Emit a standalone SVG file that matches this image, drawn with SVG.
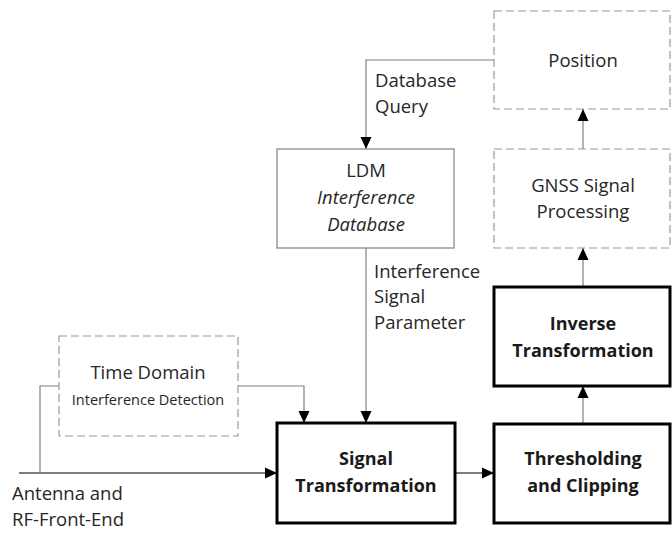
<svg xmlns="http://www.w3.org/2000/svg" width="672" height="538" viewBox="0 0 672 538">
  <style>
    text { font-family: "Open Sans", "Noto Sans", "Liberation Sans", sans-serif; fill: #262626; }
    .lbl { font-size: 18.5px; }
    .small { font-size: 14.5px; }
    .bold { font-size: 18px; font-weight: bold; fill: #1a1a1a; }
    .mid { text-anchor: middle; }
    .solid { fill: #ffffff; stroke: #808080; stroke-width: 1.2; }
    .dash { fill: #ffffff; stroke: #9a9a9a; stroke-width: 1.2; stroke-dasharray: 8 4; }
    .thick { fill: #ffffff; stroke: #000000; stroke-width: 3; }
    .wire { fill: none; stroke: #808080; stroke-width: 1.2; }
    .wire-dark { fill: none; stroke: #000000; stroke-width: 1.2; }
  </style>
  <defs>
    <marker id="arrow" viewBox="0 0 12 12" refX="12" refY="6" markerWidth="12" markerHeight="12" markerUnits="userSpaceOnUse" orient="auto">
      <path d="M0,0.5 L12,6 L0,11.5 Z" fill="#000000"/>
    </marker>
  </defs>

  <rect width="672" height="538" fill="#ffffff"/>

  <!-- connectors -->
  <g id="connectors">
    <!-- antenna input to signal transformation -->
    <path class="wire-dark" d="M19,473 H277" marker-end="url(#arrow)"/>
    <!-- branch to time domain detection -->
    <path class="wire" d="M40,473 V386 H59"/>
    <!-- time domain detection to signal transformation -->
    <path class="wire" d="M238,386 H304 V423" marker-end="url(#arrow)"/>
    <!-- database parameters to signal transformation -->
    <path class="wire" d="M366,248 V423" marker-end="url(#arrow)"/>
    <!-- signal transformation to thresholding -->
    <path class="wire-dark" d="M455,473 H494" marker-end="url(#arrow)"/>
    <!-- thresholding to inverse transformation -->
    <path class="wire" d="M583,424 V386" marker-end="url(#arrow)"/>
    <!-- inverse transformation to GNSS processing -->
    <path class="wire" d="M583,287 V248" marker-end="url(#arrow)"/>
    <!-- GNSS processing to position -->
    <path class="wire" d="M583,149 V109" marker-end="url(#arrow)"/>
    <!-- position to database query -->
    <path class="wire" d="M494,60 H366 V149" marker-end="url(#arrow)"/>

    <text class="lbl" x="375" y="87">Database</text>
    <text class="lbl" x="375" y="113">Query</text>
    <text class="lbl" x="374" y="278">Interference</text>
    <text class="lbl" x="374" y="303">Signal</text>
    <text class="lbl" x="374" y="329">Parameter</text>
    <text class="lbl" x="12" y="500">Antenna and</text>
    <text class="lbl" x="12" y="526">RF-Front-End</text>
  </g>

  <g id="position">
    <rect class="dash" x="494" y="11" width="176" height="98"/>
    <text class="lbl mid" x="583" y="67">Position</text>
  </g>

  <g id="gnss-processing">
    <rect class="dash" x="494" y="149" width="176" height="99"/>
    <text class="lbl mid" x="583" y="192">GNSS Signal</text>
    <text class="lbl mid" x="583" y="218">Processing</text>
  </g>

  <g id="ldm-database">
    <rect class="solid" x="277" y="149" width="177" height="99"/>
    <text class="lbl mid" x="366" y="177">LDM</text>
    <text class="lbl mid" x="366" y="204" font-style="italic">Interference</text>
    <text class="lbl mid" x="366" y="231" font-style="italic">Database</text>
  </g>

  <g id="inverse-transformation">
    <rect class="thick" x="494" y="287" width="176" height="99"/>
    <text class="bold mid" x="583" y="330">Inverse</text>
    <text class="bold mid" x="583" y="357">Transformation</text>
  </g>

  <g id="time-domain">
    <rect class="dash" x="59" y="336" width="179" height="100"/>
    <text class="lbl mid" x="148" y="379">Time Domain</text>
    <text class="small mid" x="148" y="405">Interference Detection</text>
  </g>

  <g id="signal-transformation">
    <rect class="thick" x="277" y="423" width="178" height="100"/>
    <text class="bold mid" x="366" y="465">Signal</text>
    <text class="bold mid" x="366" y="492">Transformation</text>
  </g>

  <g id="thresholding">
    <rect class="thick" x="494" y="424" width="176" height="99"/>
    <text class="bold mid" x="583" y="465">Thresholding</text>
    <text class="bold mid" x="583" y="492">and Clipping</text>
  </g>
</svg>
